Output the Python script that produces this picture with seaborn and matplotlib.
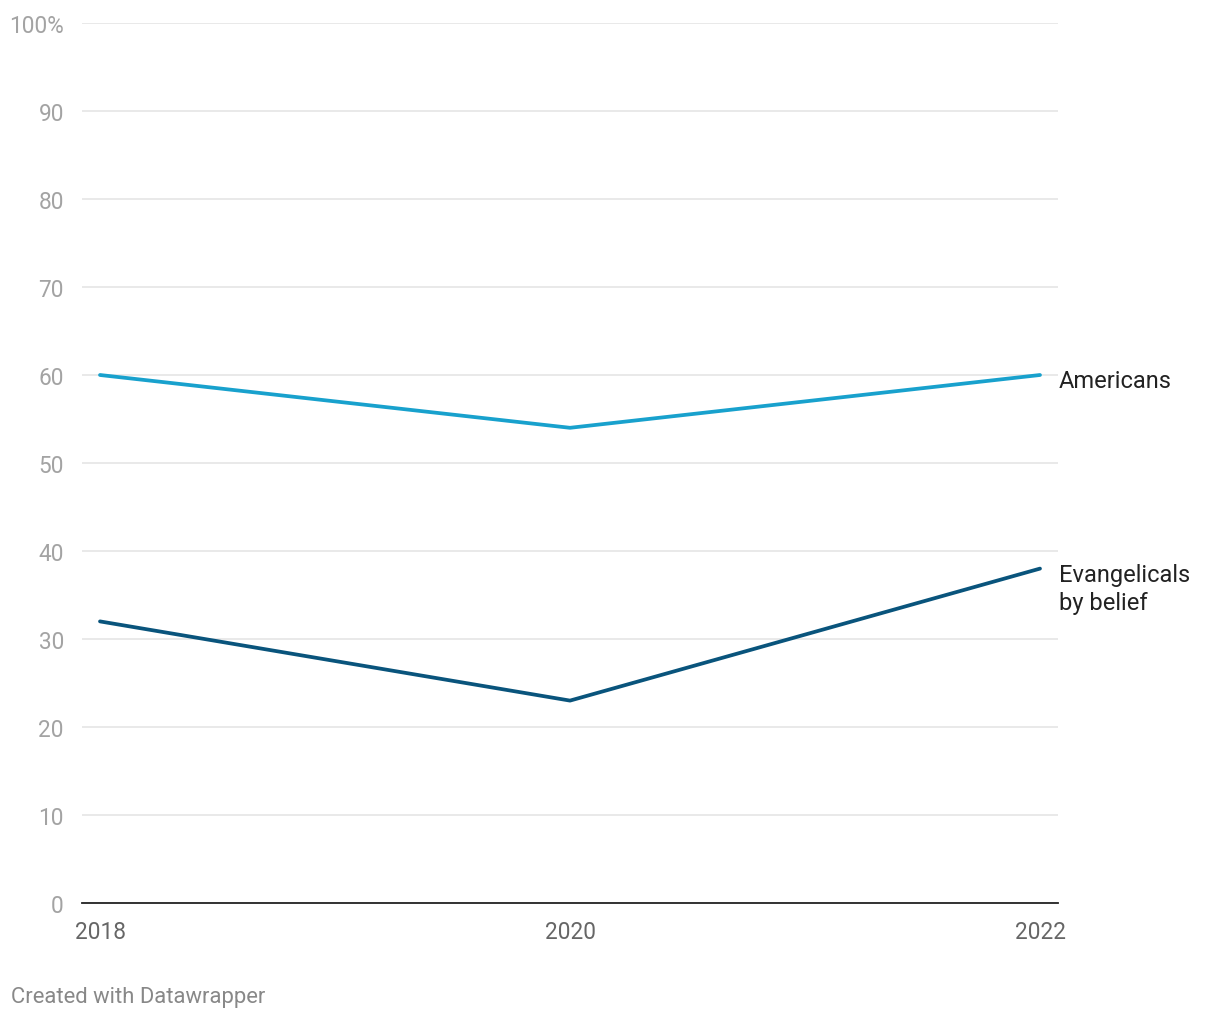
import matplotlib.pyplot as plt
import seaborn as sns
import pandas as pd

years = [2018, 2020, 2022]
americans = [60, 54, 60]
evangelicals = [32, 23, 38]
series_names = ['Americans', 'Evangelicals\nby belief']
colors = ['#18a1cd', '#09547c']
y_ticks = [0, 10, 20, 30, 40, 50, 60, 70, 80, 90, 100]
y_tick_labels = ['0', '10', '20', '30', '40', '50', '60', '70', '80', '90', '100%']

df = pd.DataFrame({
    'year': years * 2,
    'value': americans + evangelicals,
    'group': [series_names[0]] * 3 + [series_names[1]] * 3,
})

sns.set_style('white')
plt.rcParams['font.family'] = ['Roboto', 'DejaVu Sans']

fig = plt.figure(figsize=(12.2, 10.2), dpi=100)
ax = fig.add_axes([82 / 1220, 116 / 1020, 976 / 1220, 880 / 1020])

sns.lineplot(data=df, x='year', y='value', hue='group', palette=colors,
             linewidth=2.7, legend=False, ax=ax, zorder=3)

ax.set_xlim(2018 - 18 / 235, 2022 + 18 / 235)
ax.set_ylim(0, 100)
ax.set_yticks(y_ticks)
ax.set_yticklabels(y_tick_labels)
ax.set_xticks(years)
ax.set_xticklabels([str(y) for y in years])
ax.grid(axis='y', color='#e3e3e3', linewidth=1.1, zorder=0)
ax.grid(axis='x', visible=False)
for side in ['top', 'right', 'left']:
    ax.spines[side].set_visible(False)
ax.spines['bottom'].set_color('#222222')
ax.spines['bottom'].set_linewidth(1.3)
ax.spines['bottom'].set_zorder(4)
ax.tick_params(axis='y', length=0, pad=13, labelsize=16.3, labelcolor='#a3a3a3')
ax.tick_params(axis='x', length=0, pad=12, labelsize=16.3, labelcolor='#666666')
ax.set_xlabel('')
ax.set_ylabel('')

ax.annotate(series_names[0], xy=(years[-1], americans[-1]), xytext=(19, -6),
            textcoords='offset pixels', ha='left', va='center',
            fontsize=17, color='#222222')
ax.annotate(series_names[1], xy=(years[-1], evangelicals[-1]), xytext=(19, 6),
            textcoords='offset pixels', ha='left', va='top',
            fontsize=17, color='#222222', linespacing=1.3)

fig.text(11 / 1220, 1 - 998 / 1020, 'Created with Datawrapper', ha='left', va='center',
         fontsize=15.8, color='#888888')

fig.savefig('out.png', dpi=100)
plt.close(fig)
